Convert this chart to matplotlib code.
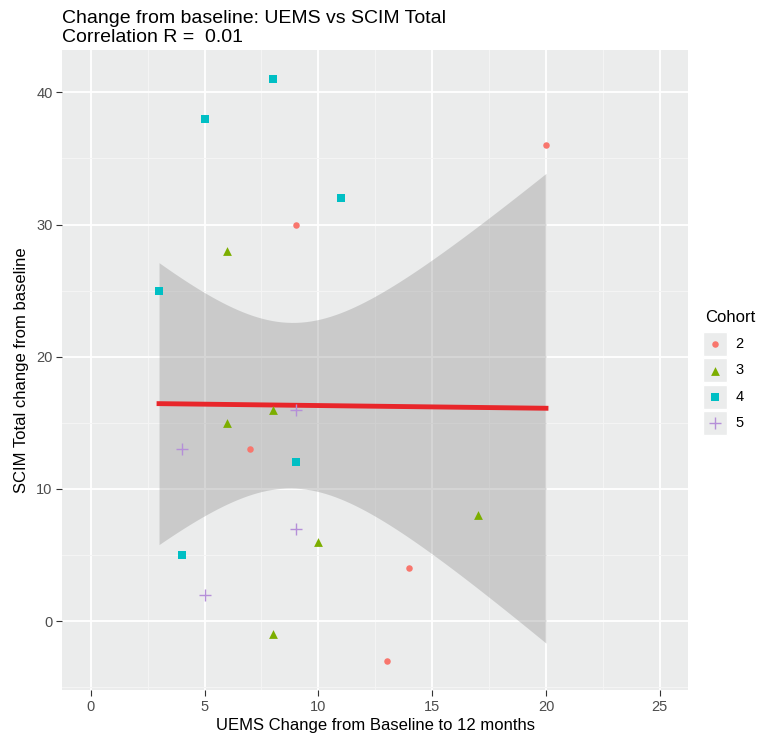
import numpy as np
import matplotlib
matplotlib.use("Agg")
from matplotlib import pyplot as plt
from matplotlib.patches import Rectangle

plt.rcParams['font.family'] = ['Liberation Sans', 'DejaVu Sans']

# UEMS change vs SCIM total change, by cohort
cohorts = ['2', '3', '4', '5']
uems_c2 = [20, 9, 7, 14, 13]
scim_c2 = [36, 30, 13, 4, -3]
uems_c3 = [6, 8, 6, 10, 17, 8]
scim_c3 = [28, 16, 15, 6, 8, -1]
uems_c4 = [8, 5, 11, 3, 9, 4]
scim_c4 = [41, 38, 32, 25, 12, 5]
uems_c5 = [9, 4, 9, 5]
scim_c5 = [16, 13, 7, 2]

x_all = np.array(uems_c2 + uems_c3 + uems_c4 + uems_c5, dtype=float)
y_all = np.array(scim_c2 + scim_c3 + scim_c4 + scim_c5, dtype=float)

colors = ['#F8766D', '#7CAE00', '#00BFC4', '#B58FD8']
markers = ['o', '^', 's', '+']
sizes = [22, 40, 28, 70]

fig = plt.figure(figsize=(7.69, 7.37), dpi=100)
ax = fig.add_axes([0.081, 0.064, 0.814, 0.868])
ax.set_facecolor('#EBECEC')

# linear fit + 95% confidence band
n = len(x_all)
slope, intercept = np.polyfit(x_all, y_all, 1)
xs = np.linspace(x_all.min(), x_all.max(), 80)
ys = intercept + slope * xs
resid = y_all - (intercept + slope * x_all)
s = np.sqrt(np.sum(resid ** 2) / (n - 2))
sxx = np.sum((x_all - x_all.mean()) ** 2)
se = s * np.sqrt(1.0 / n + (xs - x_all.mean()) ** 2 / sxx)
t_crit = 2.093  # t(0.975, df=19)
ax.fill_between(xs, ys - t_crit * se, ys + t_crit * se, color='#999999', alpha=0.4,
                linewidth=0, zorder=2)
ax.plot(xs, ys, color='#E8262A', linewidth=3.5, zorder=3)

data = [(uems_c2, scim_c2), (uems_c3, scim_c3), (uems_c4, scim_c4), (uems_c5, scim_c5)]
for i, (xv, yv) in enumerate(data):
    ax.scatter(xv, yv, color=colors[i], marker=markers[i], s=sizes[i], label=cohorts[i],
               linewidths=1.0 if markers[i] == '+' else 0, zorder=4)

ax.set_xlim(-1.25, 26.25)
ax.set_ylim(-5.2, 43.2)
ax.set_xticks([0, 5, 10, 15, 20, 25])
ax.set_yticks([0, 10, 20, 30, 40])
ax.set_xticks([2.5, 7.5, 12.5, 17.5, 22.5], minor=True)
ax.set_yticks([-5, 5, 15, 25, 35], minor=True)
ax.grid(which='major', color='white', linewidth=1.3)
ax.grid(which='minor', color='#F5F5F5', linewidth=0.7)
ax.set_axisbelow(True)
for sp in ax.spines.values():
    sp.set_visible(False)
ax.tick_params(which='major', length=4, color='#333333', labelcolor='#4D4D4D',
               labelsize=10.5, pad=3)
ax.tick_params(which='minor', length=0)

ax.set_xlabel('UEMS Change from Baseline to 12 months', fontsize=12, color='black',
              labelpad=3)
ax.set_ylabel('SCIM Total change from baseline', fontsize=12, color='black', labelpad=5)
ax.set_title('Change from baseline: UEMS vs SCIM Total\nCorrelation R =  0.01',
             loc='left', fontsize=14, pad=6, linespacing=1.1)

leg = ax.legend(title='Cohort', loc='center left', bbox_to_anchor=(1.01, 0.5),
                frameon=False, fontsize=10.5, title_fontsize=12, handletextpad=0.7,
                handlelength=1.4, labelspacing=0.85, borderaxespad=0.3)
leg._legend_box.align = 'left'

# grey key boxes behind legend symbols, ggplot style
fig.canvas.draw()
rend = fig.canvas.get_renderer()
for txt in leg.get_texts():
    bb = txt.get_window_extent(rend)
    cy = (bb.y0 + bb.y1) / 2
    w = 24
    cx = bb.x0 - 8 - w / 2
    rect = Rectangle((cx - w / 2, cy - w / 2), w, w, transform=None,
                     facecolor='#EBECEC', edgecolor='white', linewidth=1, zorder=-1)
    fig.add_artist(rect)

fig.savefig('out.png', dpi=100)
